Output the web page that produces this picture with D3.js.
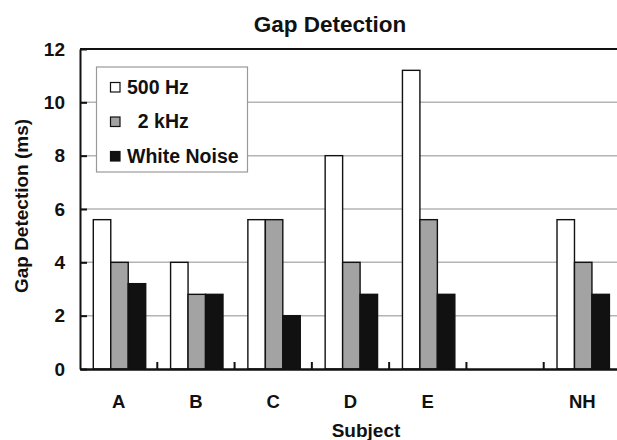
<!DOCTYPE html>
<html>
<head>
<meta charset="utf-8">
<script src="https://cdn.jsdelivr.net/npm/d3@7"></script>
<style>
  html, body { margin: 0; padding: 0; background: #fff; }
  svg { display: block; font-family: "Liberation Sans", Arial, sans-serif; font-weight: bold; }
</style>
</head>
<body>
<svg id="chart" width="617" height="440"></svg>
<script>
const categories = ["A", "B", "C", "D", "E", " ", "NH"];
const seriesNames = ["500 Hz", "2 kHz", "White Noise"];
const legendLabels = ["500 Hz", "  2 kHz", "White Noise"];
const hz500 = [5.6, 4.0, 5.6, 8.0, 11.2, null, 5.6];
const khz2 = [4.0, 2.8, 5.6, 4.0, 5.6, null, 4.0];
const whiteNoise = [3.2, 2.8, 2.0, 2.8, 2.8, null, 2.8];
const yTicks = [0, 2, 4, 6, 8, 10, 12];
const seriesColors = ["#ffffff", "#a3a3a3", "#111111"];

const seriesValues = [hz500, khz2, whiteNoise];
const svg = d3.select("#chart");

const mLeft = 80, mRight = 621, mTop = 49, mBottom = 369;

const x0 = d3.scaleBand().domain(categories).range([mLeft, mRight]).padding(0);
const x1 = d3.scaleBand().domain(seriesNames).range([13.3, 65.7]).padding(0);
const y = d3.scaleLinear().domain([0, 12]).range([mBottom, mTop]);

// gridlines
svg.append("g").selectAll("line")
  .data(yTicks.filter(t => t > 0 && t < 12))
  .join("line")
  .attr("x1", mLeft).attr("x2", 617)
  .attr("y1", d => y(d)).attr("y2", d => y(d))
  .attr("stroke", "#b4b4b4").attr("stroke-width", 1.5);

// top frame
svg.append("line")
  .attr("x1", mLeft).attr("x2", 617)
  .attr("y1", y(12)).attr("y2", y(12))
  .attr("stroke", "#111").attr("stroke-width", 2);

// bars
const rows = [];
categories.forEach((c, i) => {
  seriesNames.forEach((s, j) => {
    const v = seriesValues[j][i];
    if (v != null) rows.push({ c, s, v, j });
  });
});
svg.append("g").selectAll("rect")
  .data(rows)
  .join("rect")
  .attr("x", d => x0(d.c) + x1(d.s))
  .attr("width", x1.bandwidth())
  .attr("y", d => y(d.v))
  .attr("height", d => y(0) - y(d.v))
  .attr("fill", d => seriesColors[d.j])
  .attr("stroke", "#111").attr("stroke-width", 1.4);

// y axis
const yAxis = d3.axisLeft(y).tickValues(yTicks).tickSizeInner(-7).tickSizeOuter(0).tickPadding(15);
const gy = svg.append("g").attr("transform", `translate(${mLeft},0)`).call(yAxis);
gy.select(".domain").attr("stroke", "#111").attr("stroke-width", 2);
gy.selectAll(".tick line").attr("stroke", "#111").attr("stroke-width", 2);
gy.selectAll(".tick text").attr("font-size", 19).attr("font-weight", "bold").attr("fill", "#111")
  .attr("font-family", "Liberation Sans, Arial, sans-serif");

// x axis
const xAxis = d3.axisBottom(x0).tickSize(0).tickPadding(26);
const gx = svg.append("g").attr("transform", `translate(0,${mBottom})`).call(xAxis);
gx.select(".domain").attr("stroke", "#111").attr("stroke-width", 2.5);
gx.selectAll(".tick text").attr("font-size", 18.5).attr("font-weight", "bold").attr("fill", "#111")
  .attr("font-family", "Liberation Sans, Arial, sans-serif");
// category boundary ticks (inward)
svg.append("g").selectAll("line")
  .data(categories.slice(1))
  .join("line")
  .attr("x1", d => x0(d)).attr("x2", d => x0(d))
  .attr("y1", mBottom).attr("y2", mBottom - 7)
  .attr("stroke", "#111").attr("stroke-width", 2);

// title
svg.append("text").attr("x", 330).attr("y", 32).attr("text-anchor", "middle")
  .attr("font-size", 22.5).attr("fill", "#111").text("Gap Detection");
// x title
svg.append("text").attr("x", 366).attr("y", 437).attr("text-anchor", "middle")
  .attr("font-size", 19).attr("fill", "#111").text("Subject");
// y title
svg.append("text").attr("transform", "translate(28,206) rotate(-90)").attr("text-anchor", "middle")
  .attr("font-size", 19).attr("fill", "#111").text("Gap Detection (ms)");

// legend
const lg = svg.append("g");
lg.append("rect").attr("x", 96.5).attr("y", 67).attr("width", 151).attr("height", 105)
  .attr("fill", "#fff").attr("stroke", "#999").attr("stroke-width", 1.2);
const items = lg.selectAll("g.item").data(seriesNames).join("g").attr("class", "item")
  .attr("transform", (d, i) => `translate(0,${87 + i * 34.5})`);
items.append("rect").attr("x", 110.5).attr("y", -4.5).attr("width", 9.5).attr("height", 9.5)
  .attr("fill", (d, i) => seriesColors[i]).attr("stroke", "#111").attr("stroke-width", 1.2);
items.append("text").attr("x", 127).attr("y", 6.5).attr("font-size", 19.5).attr("fill", "#111")
  .style("white-space", "pre").text((d, i) => legendLabels[i]);
</script>
</body>
</html>
